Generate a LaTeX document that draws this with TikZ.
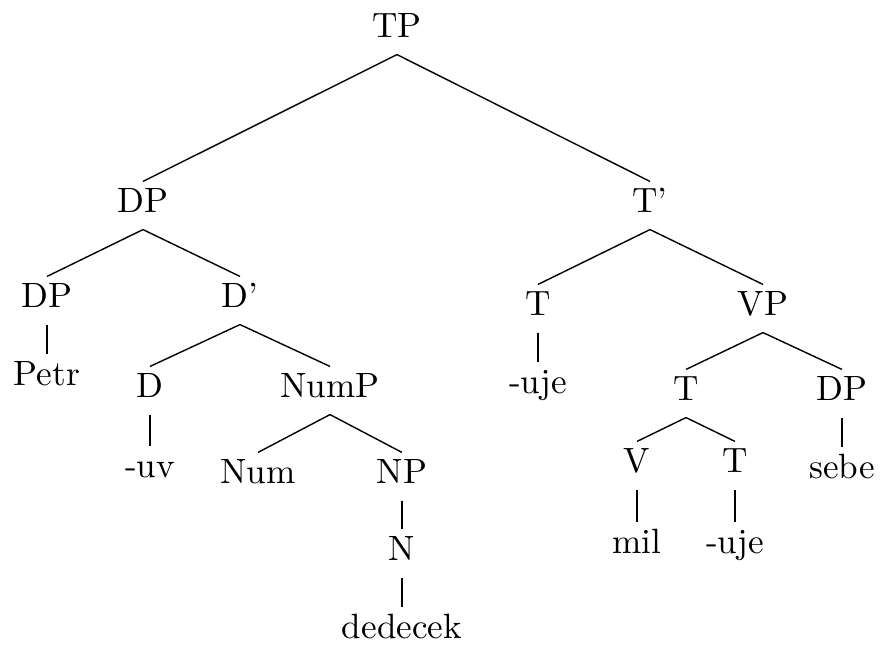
\documentclass[tikz,border=0pt]{standalone}
\usepackage{tikz}

\begin{document}
\begin{tikzpicture}[lab/.style={anchor=base, inner sep=1.5pt, text height=7pt, text depth=3.3pt}]
  \useasboundingbox (0,0) rectangle (8.83,-6.46);
  % Nodes
  \node[lab](TP) at (3.97,-0.37) {TP};
  \node[lab](DPa) at (1.43,-2.12) {DP};
  \node[lab](Tbar) at (6.50,-2.12) {T'};
  \node[lab](DPb) at (0.47,-3.07) {DP};
  \node[lab](Dbar) at (2.40,-3.07) {D'};
  \node[lab](Ta) at (5.38,-3.15) {T};
  \node[lab](VP) at (7.63,-3.15) {VP};
  \node[lab](Petr) at (0.47,-3.85) {Petr};
  \node[lab](D) at (1.50,-3.97) {D};
  \node[lab](NumP) at (3.30,-3.97) {NumP};
  \node[lab](ujeA) at (5.38,-3.93) {-uje};
  \node[lab](Tb) at (6.86,-4.00) {T};
  \node[lab](DPc) at (8.42,-4.00) {DP};
  \node[lab](uv) at (1.50,-4.77) {-uv};
  \node[lab](Num) at (2.58,-4.83) {Num};
  \node[lab](NP) at (4.02,-4.83) {NP};
  \node[lab](V) at (6.37,-4.72) {V};
  \node[lab](Tc) at (7.35,-4.72) {T};
  \node[lab](sebe) at (8.42,-4.78) {sebe};
  \node[lab](N) at (4.02,-5.60) {N};
  \node[lab](mil) at (6.37,-5.53) {mil};
  \node[lab](ujeB) at (7.35,-5.53) {-uje};
  \node[lab](dedecek) at (4.02,-6.38) {dedecek};
  % Edges
  \foreach \a/\b in {TP/DPa, TP/Tbar, DPa/DPb, DPa/Dbar, Tbar/Ta, Tbar/VP,
                     DPb/Petr, Dbar/D, Dbar/NumP, Ta/ujeA, VP/Tb, VP/DPc,
                     D/uv, NumP/Num, NumP/NP, Tb/V, Tb/Tc, DPc/sebe,
                     NP/N, V/mil, Tc/ujeB, N/dedecek}
    \draw (\a.south)--(\b.north);
\end{tikzpicture}
\end{document}
